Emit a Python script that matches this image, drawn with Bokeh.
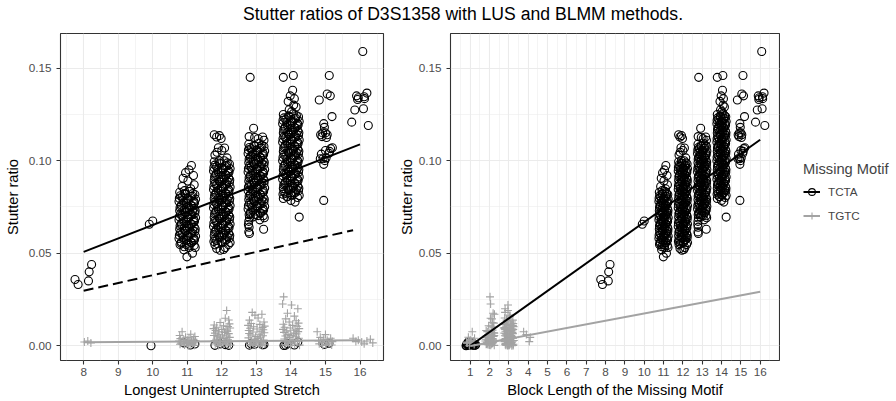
from bokeh.plotting import figure
from bokeh.models import (FixedTicker, Legend, LegendItem, Range1d, Div, Spacer,
                          PrintfTickFormatter)
from bokeh.layouts import column, row
from bokeh.embed import file_html
from bokeh.resources import INLINE

FONT = "Liberation Sans"
TITLE = "Stutter ratios of D3S1358 with LUS and BLMM methods."
XLAB_LEFT = "Longest Uninterrupted Stretch"
XLAB_RIGHT = "Block Length of the Missing Motif"
YLAB = "Stutter ratio"
LEGEND_TITLE = "Missing Motif"
MOTIFS = ["TCTA", "TGTC"]

x_ticks_left = [8, 9, 10, 11, 12, 13, 14, 15, 16]
x_ticks_right = list(range(1, 17))
y_ticks = [0.0, 0.05, 0.10, 0.15]

c8_x = [7.75, 7.84, 8.14, 8.16, 8.23]
c8_y = [0.0358, 0.0331, 0.0350, 0.0399, 0.0439]
c10_x = [9.90, 10.00]
c10_y = [0.0656, 0.0674]

c11_x = [11.12, 11.05, 10.95, 11.18, 10.88, 11.02, 11.20, 10.85, 11.10, 10.92,
         10.78, 10.93, 11.07, 11.22, 10.85, 11.00, 11.14, 11.24,
         10.76, 10.90, 11.04, 11.18, 10.82, 10.97, 11.11, 11.20,
         10.78, 10.93, 11.07, 11.22, 10.85, 11.00, 11.14, 11.24,
         10.76, 10.90, 11.04, 11.18, 10.82, 10.97, 11.11, 11.20,
         10.78, 10.93, 11.07, 11.22, 10.85, 11.00, 11.14, 11.24,
         10.76, 10.90, 11.04, 11.18, 10.82, 10.97, 11.11, 11.20,
         11.05, 10.90, 11.15, 10.99,
         10.80, 10.95, 11.10, 11.16, 10.88, 11.03, 11.19, 10.77,
         10.83, 10.98, 11.12, 11.21, 10.91, 11.05, 11.23, 10.79,
         10.80, 10.95, 11.10, 11.16, 10.88, 11.03, 11.19, 10.77,
         10.83, 10.98, 11.12, 11.21, 10.91, 11.05, 11.23, 10.79,
         10.80, 10.95, 11.10, 11.16, 10.88, 11.03, 11.19, 10.77,
         10.83, 10.98, 11.12, 11.21, 10.91, 11.05, 11.23, 10.79]
c11_y = [0.0974, 0.0950, 0.0935, 0.0920, 0.0905, 0.0890, 0.0870, 0.0860, 0.0848, 0.0838,
         0.0829, 0.0822, 0.0834, 0.0817, 0.0804, 0.0797, 0.0809, 0.0792,
         0.0779, 0.0772, 0.0784, 0.0767, 0.0754, 0.0747, 0.0759, 0.0742,
         0.0729, 0.0722, 0.0734, 0.0717, 0.0704, 0.0697, 0.0709, 0.0692,
         0.0679, 0.0672, 0.0684, 0.0667, 0.0654, 0.0647, 0.0659, 0.0642,
         0.0629, 0.0622, 0.0634, 0.0617, 0.0604, 0.0597, 0.0609, 0.0592,
         0.0579, 0.0572, 0.0584, 0.0567, 0.0554, 0.0547, 0.0559, 0.0542,
         0.0530, 0.0518, 0.0500, 0.0480,
         0.0810, 0.0818, 0.0806, 0.0822, 0.0785, 0.0793, 0.0781, 0.0797,
         0.0760, 0.0768, 0.0756, 0.0772, 0.0735, 0.0743, 0.0731, 0.0747,
         0.0710, 0.0718, 0.0706, 0.0722, 0.0685, 0.0693, 0.0681, 0.0697,
         0.0660, 0.0668, 0.0656, 0.0672, 0.0635, 0.0643, 0.0631, 0.0647,
         0.0610, 0.0618, 0.0606, 0.0622, 0.0585, 0.0593, 0.0581, 0.0597,
         0.0560, 0.0568, 0.0556, 0.0572, 0.0535, 0.0543, 0.0531, 0.0547]

c12_x = [11.78, 11.93, 11.98, 11.85, 11.90, 12.00, 12.08, 11.80, 11.92, 12.15, 11.86,
         11.78, 11.93, 12.07, 12.22, 11.85, 12.00, 12.14, 12.24,
         11.76, 11.90, 12.04, 12.18, 11.82, 11.97, 12.11, 12.20,
         11.78, 11.93, 12.07, 12.22, 11.85, 12.00, 12.14, 12.24,
         11.76, 11.90, 12.04, 12.18, 11.82, 11.97, 12.11, 12.20,
         11.78, 11.93, 12.07, 12.22, 11.85, 12.00, 12.14, 12.24,
         11.76, 11.90, 12.04, 12.18, 11.82, 11.97, 12.11, 12.20,
         11.78, 11.93, 12.07, 12.22, 11.85, 12.00, 12.14, 12.24,
         11.76, 11.90, 12.04, 12.18, 11.82, 11.97, 12.11, 12.20,
         11.78, 11.93, 12.07, 12.22, 11.85, 12.00, 12.14, 12.24,
         11.80, 12.10, 11.85, 11.95, 12.05,
         11.80, 11.95, 12.10, 12.16, 11.88, 12.03, 12.19, 11.77,
         11.83, 11.98, 12.12, 12.21, 11.91, 12.05, 12.23, 11.79,
         11.80, 11.95, 12.10, 12.16, 11.88, 12.03, 12.19, 11.77,
         11.83, 11.98, 12.12, 12.21, 11.91, 12.05, 12.23, 11.79,
         11.80, 11.95, 12.10, 12.16, 11.88, 12.03, 12.19, 11.77,
         11.83, 11.98, 12.12, 12.21, 11.91, 12.05, 12.23, 11.79,
         11.80, 11.95, 12.10, 12.16, 11.88, 12.03, 12.19, 11.77,
         11.83, 11.98, 12.12, 12.21, 11.91, 12.05, 12.23, 11.79,
         11.80, 11.95, 12.10, 12.16, 11.88, 12.03, 12.19, 11.77]
c12_y = [0.1140, 0.1135, 0.1120, 0.1128, 0.1070, 0.1055, 0.1068, 0.1030, 0.1000, 0.1015, 0.1045,
         0.0994, 0.0987, 0.0999, 0.0982, 0.0969, 0.0962, 0.0974, 0.0957,
         0.0944, 0.0937, 0.0949, 0.0932, 0.0919, 0.0912, 0.0924, 0.0907,
         0.0894, 0.0887, 0.0899, 0.0882, 0.0869, 0.0862, 0.0874, 0.0857,
         0.0844, 0.0837, 0.0849, 0.0832, 0.0819, 0.0812, 0.0824, 0.0807,
         0.0794, 0.0787, 0.0799, 0.0782, 0.0769, 0.0762, 0.0774, 0.0757,
         0.0744, 0.0737, 0.0749, 0.0732, 0.0719, 0.0712, 0.0724, 0.0707,
         0.0694, 0.0687, 0.0699, 0.0682, 0.0669, 0.0662, 0.0674, 0.0657,
         0.0644, 0.0637, 0.0649, 0.0632, 0.0619, 0.0612, 0.0624, 0.0607,
         0.0594, 0.0587, 0.0599, 0.0582, 0.0569, 0.0562, 0.0574, 0.0557,
         0.0545, 0.0530, 0.0525, 0.0516, 0.0520,
         0.0976, 0.0983, 0.0971, 0.0988, 0.0951, 0.0958, 0.0946, 0.0963,
         0.0926, 0.0933, 0.0921, 0.0938, 0.0901, 0.0908, 0.0896, 0.0913,
         0.0876, 0.0883, 0.0871, 0.0888, 0.0851, 0.0858, 0.0846, 0.0863,
         0.0826, 0.0833, 0.0821, 0.0838, 0.0801, 0.0808, 0.0796, 0.0813,
         0.0776, 0.0783, 0.0771, 0.0788, 0.0751, 0.0758, 0.0746, 0.0763,
         0.0726, 0.0733, 0.0721, 0.0738, 0.0701, 0.0708, 0.0696, 0.0713,
         0.0676, 0.0683, 0.0671, 0.0688, 0.0651, 0.0658, 0.0646, 0.0663,
         0.0626, 0.0633, 0.0621, 0.0638, 0.0601, 0.0608, 0.0596, 0.0613,
         0.0576, 0.0583, 0.0571, 0.0588, 0.0551, 0.0558, 0.0546, 0.0563]

c13_x = [12.82, 12.92, 12.79, 12.95, 13.05, 13.18, 13.22,
         12.78, 12.93, 13.07, 13.22, 12.85, 13.00, 13.14, 13.24,
         12.76, 12.90, 13.04, 13.18, 12.82, 12.97, 13.11, 13.20,
         12.78, 12.93, 13.07, 13.22, 12.85, 13.00, 13.14, 13.24,
         12.76, 12.90, 13.04, 13.18, 12.82, 12.97, 13.11, 13.20,
         12.78, 12.93, 13.07, 13.22, 12.85, 13.00, 13.14, 13.24,
         12.76, 12.90, 13.04, 13.18, 12.82, 12.97, 13.11, 13.20,
         12.78, 12.93, 13.07, 13.22, 12.85, 13.00, 13.14, 13.24,
         12.76, 12.90, 13.04, 13.18, 12.82, 12.97, 13.11, 13.20,
         12.80, 12.78, 12.77, 12.79, 13.21, 12.78, 12.80, 13.10,
         12.80, 12.95, 13.10, 13.16, 12.88, 13.03, 13.19, 12.77,
         12.83, 12.98, 13.12, 13.21, 12.91, 13.05, 13.23, 12.79,
         12.80, 12.95, 13.10, 13.16, 12.88, 13.03, 13.19, 12.77,
         12.83, 12.98, 13.12, 13.21, 12.91, 13.05, 13.23, 12.79,
         12.80, 12.95, 13.10, 13.16, 12.88, 13.03, 13.19, 12.77,
         12.83, 12.98, 13.12, 13.21, 12.91, 13.05, 13.23, 12.79,
         12.80, 12.95, 13.10, 13.16, 12.88, 13.03, 13.19, 12.77,
         12.83, 12.98, 13.12, 13.21, 12.91, 13.05, 13.23, 12.79]
c13_y = [0.1450, 0.1175, 0.1130, 0.1125, 0.1118, 0.1128, 0.1110,
         0.1089, 0.1082, 0.1094, 0.1077, 0.1064, 0.1057, 0.1069, 0.1052,
         0.1039, 0.1032, 0.1044, 0.1027, 0.1014, 0.1007, 0.1019, 0.1002,
         0.0989, 0.0982, 0.0994, 0.0977, 0.0964, 0.0957, 0.0969, 0.0952,
         0.0939, 0.0932, 0.0944, 0.0927, 0.0914, 0.0907, 0.0919, 0.0902,
         0.0889, 0.0882, 0.0894, 0.0877, 0.0864, 0.0857, 0.0869, 0.0852,
         0.0839, 0.0832, 0.0844, 0.0827, 0.0814, 0.0807, 0.0819, 0.0802,
         0.0789, 0.0782, 0.0794, 0.0777, 0.0764, 0.0757, 0.0769, 0.0752,
         0.0739, 0.0732, 0.0744, 0.0727, 0.0714, 0.0707, 0.0719, 0.0702,
         0.0690, 0.0672, 0.0655, 0.0640, 0.0629, 0.0615, 0.0606, 0.0680,
         0.1071, 0.1078, 0.1066, 0.1083, 0.1046, 0.1053, 0.1041, 0.1058,
         0.1021, 0.1028, 0.1016, 0.1033, 0.0996, 0.1003, 0.0991, 0.1008,
         0.0971, 0.0978, 0.0966, 0.0983, 0.0946, 0.0953, 0.0941, 0.0958,
         0.0921, 0.0928, 0.0916, 0.0933, 0.0896, 0.0903, 0.0891, 0.0908,
         0.0871, 0.0878, 0.0866, 0.0883, 0.0846, 0.0853, 0.0841, 0.0858,
         0.0821, 0.0828, 0.0816, 0.0833, 0.0796, 0.0803, 0.0791, 0.0808,
         0.0771, 0.0778, 0.0766, 0.0783, 0.0746, 0.0753, 0.0741, 0.0758,
         0.0721, 0.0728, 0.0716, 0.0733, 0.0696, 0.0703, 0.0691, 0.0708]

c14_x = [13.78, 14.07, 14.24,
         14.05, 13.98, 14.10, 13.92, 14.08, 14.15, 13.95, 14.02,
         13.78, 13.93, 14.07, 14.22, 13.85, 14.00, 14.14, 14.24,
         13.76, 13.90, 14.04, 14.18, 13.82, 13.97, 14.11, 14.20,
         13.78, 13.93, 14.07, 14.22, 13.85, 14.00, 14.14, 14.24,
         13.76, 13.90, 14.04, 14.18, 13.82, 13.97, 14.11, 14.20,
         13.78, 13.93, 14.07, 14.22, 13.85, 14.00, 14.14, 14.24,
         13.76, 13.90, 14.04, 14.18, 13.82, 13.97, 14.11, 14.20,
         13.78, 13.93, 14.07, 14.22, 13.85, 14.00, 14.14, 14.24,
         13.76, 13.90, 14.04, 14.18, 13.82, 13.97, 14.11, 14.20,
         13.78, 13.93, 14.07, 14.22, 13.85, 14.00, 14.14, 14.24,
         13.78, 14.00, 14.12, 13.90,
         13.80, 13.95, 14.10, 14.16, 13.88, 14.03, 14.19, 13.77,
         13.83, 13.98, 14.12, 14.21, 13.91, 14.05, 14.23, 13.79,
         13.80, 13.95, 14.10, 14.16, 13.88, 14.03, 14.19, 13.77,
         13.83, 13.98, 14.12, 14.21, 13.91, 14.05, 14.23, 13.79,
         13.80, 13.95, 14.10, 14.16, 13.88, 14.03, 14.19, 13.77,
         13.83, 13.98, 14.12, 14.21, 13.91, 14.05, 14.23, 13.79,
         13.80, 13.95, 14.10, 14.16, 13.88, 14.03, 14.19, 13.77,
         13.83, 13.98, 14.12, 14.21, 13.91, 14.05, 14.23, 13.79,
         13.80, 13.95, 14.10, 14.16, 13.88, 14.03, 14.19, 13.77]
c14_y = [0.1450, 0.1460, 0.0695,
         0.1380, 0.1350, 0.1335, 0.1320, 0.1300, 0.1290, 0.1275, 0.1265,
         0.1249, 0.1242, 0.1254, 0.1237, 0.1224, 0.1217, 0.1229, 0.1212,
         0.1199, 0.1192, 0.1204, 0.1187, 0.1174, 0.1167, 0.1179, 0.1162,
         0.1149, 0.1142, 0.1154, 0.1137, 0.1124, 0.1117, 0.1129, 0.1112,
         0.1099, 0.1092, 0.1104, 0.1087, 0.1074, 0.1067, 0.1079, 0.1062,
         0.1049, 0.1042, 0.1054, 0.1037, 0.1024, 0.1017, 0.1029, 0.1012,
         0.0999, 0.0992, 0.1004, 0.0987, 0.0974, 0.0967, 0.0979, 0.0962,
         0.0949, 0.0942, 0.0954, 0.0937, 0.0924, 0.0917, 0.0929, 0.0912,
         0.0899, 0.0892, 0.0904, 0.0887, 0.0874, 0.0867, 0.0879, 0.0862,
         0.0849, 0.0842, 0.0854, 0.0837, 0.0824, 0.0817, 0.0829, 0.0812,
         0.0795, 0.0785, 0.0776, 0.0805,
         0.1231, 0.1238, 0.1226, 0.1243, 0.1206, 0.1213, 0.1201, 0.1218,
         0.1181, 0.1188, 0.1176, 0.1193, 0.1156, 0.1163, 0.1151, 0.1168,
         0.1131, 0.1138, 0.1126, 0.1143, 0.1106, 0.1113, 0.1101, 0.1118,
         0.1081, 0.1088, 0.1076, 0.1093, 0.1056, 0.1063, 0.1051, 0.1068,
         0.1031, 0.1038, 0.1026, 0.1043, 0.1006, 0.1013, 0.1001, 0.1018,
         0.0981, 0.0988, 0.0976, 0.0993, 0.0956, 0.0963, 0.0951, 0.0968,
         0.0931, 0.0938, 0.0926, 0.0943, 0.0906, 0.0913, 0.0901, 0.0918,
         0.0881, 0.0888, 0.0876, 0.0893, 0.0856, 0.0863, 0.0851, 0.0868,
         0.0831, 0.0838, 0.0826, 0.0843, 0.0806, 0.0813, 0.0801, 0.0818]

c15_x = [14.82, 15.11, 15.05, 15.14, 15.19, 14.95, 14.97, 14.92, 14.86, 14.90, 15.00, 15.05, 15.03,
         15.20, 15.15, 15.00, 14.88, 14.93, 14.98, 14.95, 15.10, 15.12, 14.95, 15.02, 14.85]
c15_y = [0.1328, 0.1460, 0.1360, 0.1350, 0.1238, 0.1200, 0.1180, 0.1150, 0.1140, 0.1130, 0.1150, 0.1140, 0.1125,
         0.1070, 0.1065, 0.1055, 0.1035, 0.1010, 0.1000, 0.0980, 0.1040, 0.1050, 0.0785, 0.1015, 0.1010]
c16_x = [16.08, 15.90, 15.95, 16.12, 16.20, 15.85, 16.10, 15.76, 16.24, 15.93, 16.13]
c16_y = [0.1590, 0.1350, 0.1340, 0.1345, 0.1365, 0.1274, 0.1280, 0.1208, 0.1190, 0.1330, 0.1335]

# TCTA stutters whose missing-motif block length is 1
b1_lus = [9.95, 11.09, 11.80, 11.95, 12.10, 12.80, 12.95, 13.18, 13.80, 13.90,
          14.10, 14.97, 10.90, 11.22, 12.20, 12.85, 13.22, 13.85, 14.20, 15.10]
b1_blmm = [0.78, 0.85, 0.92, 1.00, 1.08, 1.15, 1.22, 1.28, 0.80, 0.88,
           0.95, 1.03, 1.10, 1.18, 1.25, 0.83, 0.97, 1.12, 0.90, 1.06]
b1_ratio = [0.0000, 0.0004, 0.0002, 0.0010, 0.0006, 0.0003, 0.0008, 0.0005, 0.0001, 0.0012,
            0.0004, 0.0007, 0.0015, 0.0009, 0.0002, 0.0011, 0.0006, 0.0003, 0.0020, 0.0013]

# ---- TGTC observations: stretch (jittered), block length (jittered), ratio ----
tgtc_lus = [8.02, 8.21, 8.12,
            10.85, 11.10, 10.78, 11.22, 10.95, 11.05, 10.80, 11.18, 10.90, 11.00, 11.24, 10.76,
            11.12, 10.88, 11.02, 11.20, 10.82, 10.97, 11.15, 10.79, 11.08, 10.92, 11.21, 11.03,
            12.14, 12.10, 12.20, 11.95, 12.22, 11.78, 12.05, 12.18, 11.85, 12.24,
            11.76, 12.00, 12.12, 11.82, 12.16, 11.90, 12.08, 11.80, 12.20, 11.92,
            12.02, 11.77, 12.14, 11.88, 12.23, 11.96, 12.06, 11.84, 12.18, 11.79,
            12.10, 11.94, 12.21, 11.86, 12.04, 11.81, 12.15, 11.98, 12.25, 11.90,
            12.88, 13.16, 12.96, 13.05, 12.80, 13.22, 12.85, 13.10, 12.76, 13.24,
            12.92, 13.18, 12.82, 13.02, 13.20, 12.78, 13.14, 12.90, 13.23, 12.79,
            13.08, 12.84, 13.19, 12.98, 13.12, 12.77, 13.04, 12.94, 13.21, 12.86,
            13.00, 13.15, 12.81, 13.06, 12.91, 13.25, 12.83, 13.11, 12.97, 13.17,
            13.79, 13.76, 14.02, 14.20, 13.90, 14.10, 13.85, 14.15, 13.95, 14.22,
            13.78, 14.05, 14.18, 13.82, 13.98, 14.24, 13.77, 14.12, 13.88, 14.21,
            13.80, 14.08, 14.16, 13.92, 14.00, 13.84, 14.14, 13.96, 14.23, 13.81,
            14.06, 13.89, 14.19, 13.86, 14.03, 13.94, 14.11, 13.83, 14.25, 13.99,
            14.76, 15.00, 14.85, 15.15, 14.95, 15.05, 14.80, 15.20, 14.90, 15.10, 14.82, 15.02, 15.18, 14.92,
            15.80, 16.30, 15.95, 16.20, 15.88, 16.05, 16.37, 16.12]
tgtc_blmm = [1.05, 0.85, 1.20,
             1.10, 2.10, 1.85, 2.20, 0.90, 1.95, 2.15, 1.80, 2.05, 1.90, 2.22, 1.78,
             2.12, 1.88, 1.02, 2.18, 0.82, 1.98, 2.08, 1.82, 1.20, 2.00, 2.24, 0.95,
             2.95, 2.05, 2.88, 2.15, 2.78, 3.10, 1.95, 3.22, 2.20, 2.85,
             3.05, 2.80, 3.18, 1.82, 2.92, 3.12, 2.10, 2.76, 3.20, 2.00,
             3.02, 2.24, 2.86, 3.15, 1.90, 2.98, 3.08, 2.18, 2.82, 3.24,
             2.06, 2.90, 3.14, 1.86, 2.96, 2.12, 3.06, 1.92, 2.84, 3.00,
             2.80, 2.25, 3.05, 2.78, 3.20, 2.95, 3.22, 2.84, 3.10, 2.86,
             3.24, 2.76, 3.00, 3.16, 2.90, 3.12, 2.82, 3.08, 2.22, 3.18,
             2.88, 3.02, 2.79, 3.14, 2.93, 3.21, 2.83, 3.06, 2.97, 3.19,
             2.77, 3.04, 2.15, 3.11, 2.89, 3.23, 2.81, 3.01, 2.95, 3.15,
             2.02, 2.05, 2.95, 2.80, 2.18, 3.05, 2.12, 2.90, 3.15, 2.22,
             2.78, 3.20, 2.08, 2.86, 3.10, 2.76, 3.22, 2.15, 2.94, 1.88,
             3.18, 2.24, 2.84, 1.92, 3.12, 2.20, 2.98, 1.80, 3.08, 2.10,
             2.88, 3.24, 1.96, 3.00, 2.14, 2.82, 1.84, 3.16, 2.06, 2.92,
             3.76, 3.90, 4.10, 3.20, 2.78, 3.05, 1.15, 2.86, 0.95, 3.12, 1.88, 3.00, 2.92, 3.22,
             1.22, 2.90, 1.00, 3.18, 4.05, 0.80, 2.10, 3.02]
tgtc_ratio = [0.0020, 0.0015, 0.0025,
              0.0075, 0.0062, 0.0055, 0.0050, 0.0046, 0.0042, 0.0038, 0.0035, 0.0032, 0.0030, 0.0027, 0.0025,
              0.0022, 0.0020, 0.0018, 0.0016, 0.0014, 0.0012, 0.0010, 0.0008, 0.0006, 0.0004, 0.0002, 0.0000,
              0.0190, 0.0148, 0.0139, 0.0125, 0.0118, 0.0112, 0.0108, 0.0104, 0.0100, 0.0096,
              0.0092, 0.0088, 0.0085, 0.0082, 0.0078, 0.0075, 0.0072, 0.0068, 0.0065, 0.0062,
              0.0058, 0.0055, 0.0052, 0.0048, 0.0045, 0.0042, 0.0038, 0.0035, 0.0032, 0.0028,
              0.0025, 0.0022, 0.0018, 0.0015, 0.0012, 0.0010, 0.0008, 0.0005, 0.0003, 0.0001,
              0.0180, 0.0170, 0.0165, 0.0150, 0.0138, 0.0128, 0.0120, 0.0115, 0.0110, 0.0106,
              0.0102, 0.0098, 0.0094, 0.0090, 0.0086, 0.0082, 0.0078, 0.0074, 0.0070, 0.0066,
              0.0062, 0.0058, 0.0054, 0.0050, 0.0046, 0.0042, 0.0038, 0.0034, 0.0030, 0.0026,
              0.0022, 0.0019, 0.0016, 0.0013, 0.0010, 0.0008, 0.0006, 0.0004, 0.0002, 0.0000,
              0.0264, 0.0225, 0.0220, 0.0200, 0.0175, 0.0160, 0.0145, 0.0135, 0.0128, 0.0122,
              0.0116, 0.0110, 0.0105, 0.0100, 0.0096, 0.0092, 0.0088, 0.0084, 0.0080, 0.0076,
              0.0072, 0.0068, 0.0064, 0.0060, 0.0056, 0.0052, 0.0048, 0.0044, 0.0040, 0.0036,
              0.0032, 0.0028, 0.0024, 0.0020, 0.0016, 0.0012, 0.0009, 0.0006, 0.0003, 0.0001,
              0.0075, 0.0060, 0.0045, 0.0040, 0.0035, 0.0030, 0.0026, 0.0022, 0.0018, 0.0014, 0.0010, 0.0007, 0.0004, 0.0001,
              0.0040, 0.0035, 0.0030, 0.0025, 0.0022, 0.0020, 0.0015, 0.0010]

# ---- fitted lines ----
lus_fit_x = [8, 16]
lus_fit_tcta = [0.0507, 0.1088]
lus_fit_tgtc = [0.0018, 0.0030]
lus_alt_x = [8, 15.8]
lus_alt_tcta = [0.0297, 0.0624]
blmm_fit_x = [1, 16]
blmm_fit_tcta = [0.0000, 0.1113]
blmm_fit_tgtc = [-0.0002, 0.0291]

main_x = c8_x + c10_x + c11_x + c12_x + c13_x + c14_x + c15_x + c16_x
main_y = c8_y + c10_y + c11_y + c12_y + c13_y + c14_y + c15_y + c16_y

BLACK = "#000000"
GREY = "#A3A3A3"
GRID = "#EBEBEB"
PT_LW = 1.1


def style(p, xticks, xminor, xlabel):
    p.outline_line_color = "#333333"
    p.outline_line_width = 1.1
    p.background_fill_color = "white"
    p.border_fill_color = "white"
    p.xaxis.ticker = FixedTicker(ticks=xticks, minor_ticks=xminor)
    p.yaxis.ticker = FixedTicker(ticks=y_ticks, minor_ticks=[0.025, 0.075, 0.125])
    p.yaxis.formatter = PrintfTickFormatter(format="%.2f")
    p.xaxis.axis_label = xlabel
    p.yaxis.axis_label = YLAB
    for ax in (p.xaxis[0], p.yaxis[0]):
        ax.axis_line_color = None
        ax.major_tick_line_color = "#333333"
        ax.major_tick_line_width = 1.1
        ax.major_tick_out = 4
        ax.major_tick_in = 0
        ax.minor_tick_line_color = None
        ax.major_label_text_font = FONT
        ax.major_label_text_font_size = "11.7px"
        ax.major_label_text_color = "#4D4D4D"
        ax.axis_label_text_font = FONT
        ax.axis_label_text_font_size = "14.7px"
        ax.axis_label_text_font_style = "normal"
        ax.axis_label_text_color = "#000000"
    p.xaxis.major_label_standoff = 3
    p.xaxis.axis_label_standoff = 3
    p.yaxis.major_label_standoff = 5
    for g in (p.xgrid[0], p.ygrid[0]):
        g.grid_line_color = GRID
        g.grid_line_width = 1.1
        g.minor_grid_line_color = GRID
        g.minor_grid_line_width = 0.55


H = 373
p1 = figure(width=395, height=H, output_backend="svg", toolbar_location=None,
            x_range=Range1d(7.33, 16.68), y_range=Range1d(-0.008, 0.1687),
            min_border_left=60, min_border_right=12, min_border_top=5, min_border_bottom=41)
style(p1, x_ticks_left, [v + 0.5 for v in range(7, 17)], XLAB_LEFT)
p1.yaxis.axis_label_standoff = 5

p1.scatter(main_x + b1_lus, main_y + b1_ratio, marker="circle", size=8,
           fill_color=None, line_color=BLACK, line_width=PT_LW)
p1.scatter(tgtc_lus, tgtc_ratio, marker="cross", size=8, line_color=GREY, line_width=1.1)
p1.line(lus_fit_x, lus_fit_tcta, line_color=BLACK, line_width=2)
p1.line(lus_alt_x, lus_alt_tcta, line_color=BLACK, line_width=2, line_dash="10 5")
p1.line(lus_fit_x, lus_fit_tgtc, line_color=GREY, line_width=2)

p2 = figure(width=385, height=H, output_backend="svg", toolbar_location=None,
            x_range=Range1d(-0.025, 17.0), y_range=Range1d(-0.008, 0.1687),
            min_border_left=53, min_border_right=1, min_border_top=5, min_border_bottom=41)
style(p2, x_ticks_right, [v + 0.5 for v in range(0, 17)], XLAB_RIGHT)
p2.yaxis.axis_label_standoff = 1

p2.scatter(main_x + b1_blmm, main_y + b1_ratio, marker="circle", size=8,
           fill_color=None, line_color=BLACK, line_width=PT_LW)
p2.scatter(tgtc_blmm, tgtc_ratio, marker="cross", size=8, line_color=GREY, line_width=1.1)
p2.line(blmm_fit_x, blmm_fit_tcta, line_color=BLACK, line_width=2)
p2.line(blmm_fit_x, blmm_fit_tgtc, line_color=GREY, line_width=2)

# legend panel: key renderers reuse the series, but this panel's ranges show none of them
p3 = figure(width=116, height=H, output_backend="svg", toolbar_location=None,
            x_range=Range1d(-20, -19), y_range=Range1d(-20, -19),
            min_border_left=0, min_border_right=0, min_border_top=5, min_border_bottom=41)
p3.xaxis.visible = False
p3.yaxis.visible = False
p3.xgrid.visible = False
p3.ygrid.visible = False
p3.outline_line_color = None
k_tcta_l = p3.line(blmm_fit_x, blmm_fit_tcta, line_color=BLACK, line_width=2)
k_tcta_p = p3.scatter(b1_blmm, b1_ratio, marker="circle", size=8, fill_color=None,
                      line_color=BLACK, line_width=PT_LW)
k_tgtc_l = p3.line(blmm_fit_x, blmm_fit_tgtc, line_color=GREY, line_width=2)
k_tgtc_p = p3.scatter(tgtc_blmm, tgtc_ratio, marker="cross", size=8, line_color=GREY, line_width=1.1)

legend = Legend(items=[LegendItem(label=MOTIFS[0], renderers=[k_tcta_l, k_tcta_p]),
                       LegendItem(label=MOTIFS[1], renderers=[k_tgtc_l, k_tgtc_p])],
                title=LEGEND_TITLE, location=(23, 136), orientation="vertical")
legend.title_text_font = FONT
legend.title_text_font_size = "14.7px"
legend.title_text_font_style = "normal"
legend.title_standoff = 6
legend.label_text_font = FONT
legend.label_text_font_size = "11.7px"
legend.glyph_width = 17
legend.glyph_height = 17
legend.label_height = 17
legend.label_standoff = 8
legend.spacing = 7
legend.padding = 0
legend.margin = 0
legend.background_fill_alpha = 0
legend.border_line_color = None
p3.add_layout(legend, "center")

title = Div(text=TITLE, width=866, height=28, margin=(0, 0, 0, 0),
            styles={"font-family": FONT, "font-size": "17.6px", "text-align": "center",
                    "line-height": "28px", "color": "#000000"})
layout = column(row(Spacer(width=30, height=28, margin=(0, 0, 0, 0)), title), row(p1, p2, p3))

open("out.html", "w").write(file_html(layout, INLINE))
